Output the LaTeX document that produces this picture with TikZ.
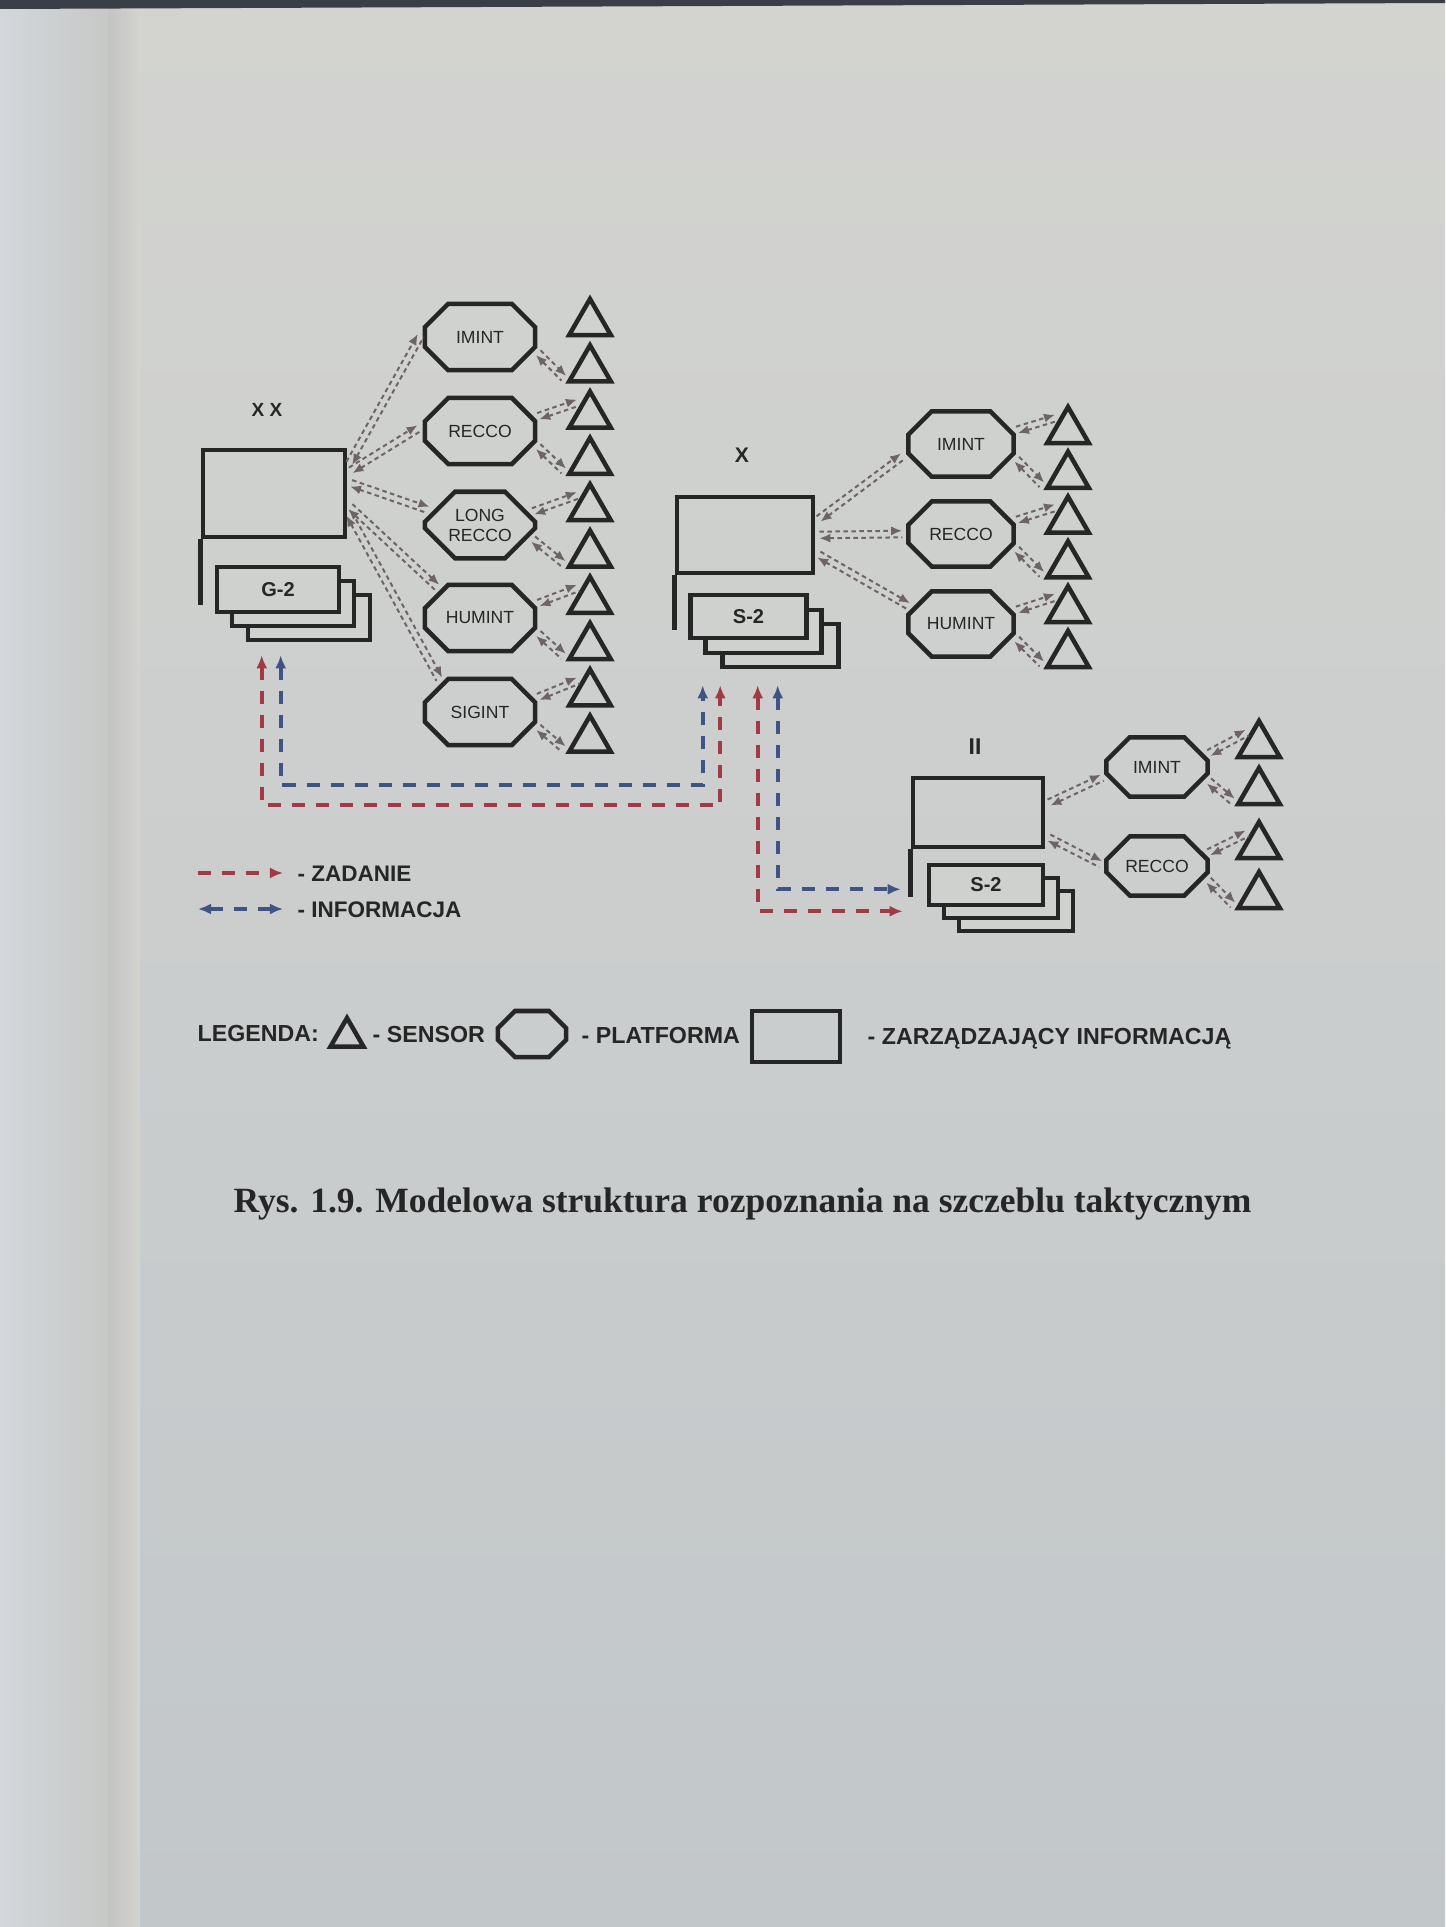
\documentclass[tikz,border=0pt]{standalone}
\usepackage{fontspec}
\usepackage{graphicx}
\setmainfont{Liberation Serif}
\newfontfamily\arialfam{Liberation Sans}
\usetikzlibrary{arrows.meta,positioning,calc,shapes.geometric,shapes.misc}
\definecolor{ink}{HTML}{262626}
\definecolor{papertop}{HTML}{D3D4D0}
\definecolor{paperbot}{HTML}{C2C7CA}
\definecolor{paper}{HTML}{CFD1CE}
\definecolor{gutter}{HTML}{D3D7DC}
\definecolor{edge}{HTML}{3A3E46}
\definecolor{zadred}{HTML}{A03A44}
\definecolor{infblue}{HTML}{3F5384}
\definecolor{pairgrey}{HTML}{6E6366}

% two opposite dashed links between a commander, a platform and a sensor
\newcommand\pairlink[2]{%
  \draw[pairline, -{Latex[length=1.1mm,width=0.9mm]}]
    ($(#1)!0.33mm!90:(#2)$) -- ($(#2)!0.33mm!-90:(#1)$);
  \draw[pairline, {Latex[length=1.1mm,width=0.9mm]}-]
    ($(#1)!0.33mm!-90:(#2)$) -- ($(#2)!0.33mm!90:(#1)$);}

\begin{document}
\begin{tikzpicture}[
  x=0.01cm, y=-0.01cm, ink,
  >={Latex[length=1.3mm,width=1.1mm]},
  cmdbox/.style={draw=ink, line width=0.45mm, inner sep=0},
  card/.style={draw=ink, line width=0.45mm, fill=paper, inner sep=0,
               font=\arialfam\bfseries\fontsize{5.7}{6.5}\selectfont},
  staff/.style={draw=ink, line width=0.45mm},
  plat/.style={chamfered rectangle, chamfered rectangle xsep=1.3mm,
               chamfered rectangle ysep=1.7mm, draw=ink, line width=0.45mm,
               inner sep=0, align=center,
               font=\arialfam\fontsize{5}{5.7}\selectfont},
  sensor/.style={regular polygon, regular polygon sides=3, draw=ink,
                 line width=0.45mm, minimum size=4.8mm, inner sep=0},
  echelon/.style={font=\arialfam\bfseries\fontsize{5.4}{6}\selectfont, inner sep=0},
  pairline/.style={draw=pairgrey, line width=0.2mm,
                   dash pattern=on 0.45mm off 0.35mm,
                   shorten >=0.4mm, shorten <=0.4mm},
  zadflow/.style={draw=zadred, line width=0.4mm, dash pattern=on 1.3mm off 1.1mm},
  infflow/.style={draw=infblue, line width=0.4mm, dash pattern=on 1.3mm off 1.1mm},
  legtxt/.style={font=\arialfam\bfseries\fontsize{6.4}{7.5}\selectfont, inner sep=0},
  legtxtb/.style={font=\arialfam\bfseries\fontsize{6.6}{8}\selectfont, inner sep=0},
]
\useasboundingbox (0,0) rectangle (1445,1927);

% ---- the photographed page -------------------------------------------------
\fill[top color=papertop, bottom color=paperbot] (0,0) rectangle (1445,1927);
\fill[left color=gutter, right color=paper!96!black] (0,0) rectangle (108,1927);
\fill[left color=paper!94!black, right color=papertop] (108,0) rectangle (140,1927);
\fill[edge] (0,0) -- (1445,0) -- (1445,3) -- (0,9) -- cycle;

% ---- division (XX) ------------------------------------------------------------
\node[echelon] (gech) at (267,410) {X X};
\node[cmdbox, minimum width=14.2mm, minimum height=8.7mm] (gbox) at (274,493.5) {};
\draw[staff] (gbox.south west) -- ++(0,66);
\node[card, minimum width=12.2mm, minimum height=4.5mm] (g2c) at (309,617.5) {};
\node[card, minimum width=12.2mm, minimum height=4.5mm] (g2b) at (293,603.5) {};
\node[card, minimum width=12.2mm, minimum height=4.5mm] (g2a) at (278,589.5) {G-2};

\foreach \n/\t/\y in {gim/IMINT/337, grec/RECCO/431, glong/{LONG\\RECCO}/525,
                      ghum/HUMINT/618, gsig/SIGINT/712}
  \node[plat, minimum width=11mm, minimum height=6.6mm] (\n) at (480,\y) {\t};
\foreach \k in {1,...,10}
  \node[sensor] (gs\k) at (590,{323+46.3*(\k-1)}) {};

\pairlink{gbox.20}{gim.175}
\pairlink{gbox.16}{grec.175}
\pairlink{gbox.9}{glong.164}
\pairlink{gbox.352}{ghum.145}
\pairlink{gbox.347}{gsig.143}
\pairlink{gim.347}{gs2.207}
\foreach \p/\a/\b in {grec/3/4, glong/5/6, ghum/7/8, gsig/9/10}{
  \pairlink{\p.14}{gs\a.120}
  \pairlink{\p.347}{gs\b.207}}

% ---- brigade (X) -------------------------------------------------------------
\node[echelon, font=\arialfam\bfseries\fontsize{6}{7}\selectfont] (xech) at (742,455) {X};
\node[cmdbox, minimum width=13.6mm, minimum height=7.6mm] (xbox) at (745,535) {};
\draw[staff] (xbox.south west) -- ++(0,55);
\node[card, minimum width=11.6mm, minimum height=4.3mm] (x2c) at (780.5,645.5) {};
\node[card, minimum width=11.6mm, minimum height=4.3mm] (x2b) at (763.5,631.5) {};
\node[card, minimum width=11.6mm, minimum height=4.3mm] (x2a) at (748.5,616.5) {S-2};

\foreach \n/\t/\y in {xim/IMINT/444, xrec/RECCO/534, xhum/HUMINT/624}
  \node[plat, minimum width=10.5mm, minimum height=6.5mm] (\n) at (961,\y) {\t};
\foreach \k in {1,...,6}
  \node[sensor] (xs\k) at (1068,{431+44.8*(\k-1)}) {};

\pairlink{xbox.11}{xim.190}
\pairlink{xbox.east}{xrec.west}
\pairlink{xbox.346}{xhum.162}
\foreach \p/\a/\b in {xim/1/2, xrec/3/4, xhum/5/6}{
  \pairlink{\p.14}{xs\a.120}
  \pairlink{\p.347}{xs\b.207}}

% ---- battalion (II) ----------------------------------------------------------
\node[echelon, font=\arialfam\bfseries\fontsize{6.5}{7}\selectfont] (iech) at (975,747) {II};
\node[cmdbox, minimum width=13mm, minimum height=6.9mm] (ibox) at (978,812.5) {};
\draw[staff] (ibox.south west) -- ++(0,48);
\node[card, minimum width=11.4mm, minimum height=4mm] (i2c) at (1016,911) {};
\node[card, minimum width=11.4mm, minimum height=4mm] (i2b) at (1001,898) {};
\node[card, minimum width=11.4mm, minimum height=4mm] (i2a) at (986,885) {S-2};

\foreach \n/\t/\y in {iim/IMINT/767, irec/RECCO/866}
  \node[plat, minimum width=10.1mm, minimum height=5.9mm] (\n) at (1157,\y) {\t};
\foreach \k/\y in {1/745, 2/792, 3/846, 4/896}
  \node[sensor] (is\k) at (1259,\y) {};

\pairlink{ibox.7}{iim.190}
\pairlink{ibox.341}{irec.180}
\foreach \p/\a/\b in {iim/1/2, irec/3/4}{
  \pairlink{\p.14}{is\a.120}
  \pairlink{\p.347}{is\b.207}}

% ---- tasking and information between the staffs ---------------------------
\coordinate (zg)  at ($(g2c.south west)+(16,13)$);
\coordinate (ig)  at ($(g2c.south west)+(35,13)$);
\coordinate (zx)  at ($(x2c.south west)+(0,16)$);
\coordinate (ix)  at ($(x2c.south west)+(-17.5,16)$);
\coordinate (zx2) at ($(x2c.south west)+(37.5,16)$);
\coordinate (ix2) at ($(x2c.south west)+(57.5,16)$);
\coordinate (zi)  at ($(ibox.south west)+(-8,62)$);
\coordinate (ii)  at ($(ibox.south west)+(-10,40)$);

\draw[zadflow, <->] (zg) -- ++(0,150) -| (zx);
\draw[infflow, <->] (ig) -- ++(0,130) -| (ix);
\draw[zadflow, <->] (zx2) |- (zi);
\draw[infflow, <->] (ix2) |- (ii);

% ---- legend ----------------------------------------------------------------
\coordinate (lz1) at (198,873);
\coordinate (lz2) at (283,873);
\coordinate (li1) at (198,909);
\coordinate (li2) at (283,909);
\draw[zadflow, ->] (lz1) -- (lz2);
\draw[infflow, <->] (li1) -- (li2);
\node[legtxt, anchor=base west] (lzt) at (297,881) {- ZADANIE};
\node[legtxt, anchor=base west] (lit) at (297,917) {- INFORMACJA};

\node[legtxtb, anchor=base west] (leg) at (197,1041) {LEGENDA:};
\node[sensor, minimum size=3.8mm] (lsen) at (347,1037) {};
\node[legtxtb, anchor=base west] (lsent) at (372,1042) {- SENSOR};
\node[plat, minimum width=6.8mm, minimum height=4.6mm,
      chamfered rectangle xsep=1.1mm, chamfered rectangle ysep=1.1mm] (lplat)
  at (532,1034) {\phantom{IMI}};
\node[legtxtb, anchor=base west] (lplatt) at (581,1043) {- PLATFORMA};
\node[cmdbox, minimum width=8.8mm, minimum height=5.1mm] (lbox) at (796,1036.5) {};
\node[legtxtb, anchor=base west] (lboxt) at (867,1044) {- ZARZĄDZAJĄCY INFORMACJĄ};

% ---- caption -----------------------------------------------------------------
\node[anchor=base west, inner sep=0] (cap) at (233,1212)
  {\resizebox{10.17cm}{!}{\bfseries Rys. 1.9. Modelowa struktura rozpoznania na szczeblu taktycznym}};

\end{tikzpicture}
\end{document}
